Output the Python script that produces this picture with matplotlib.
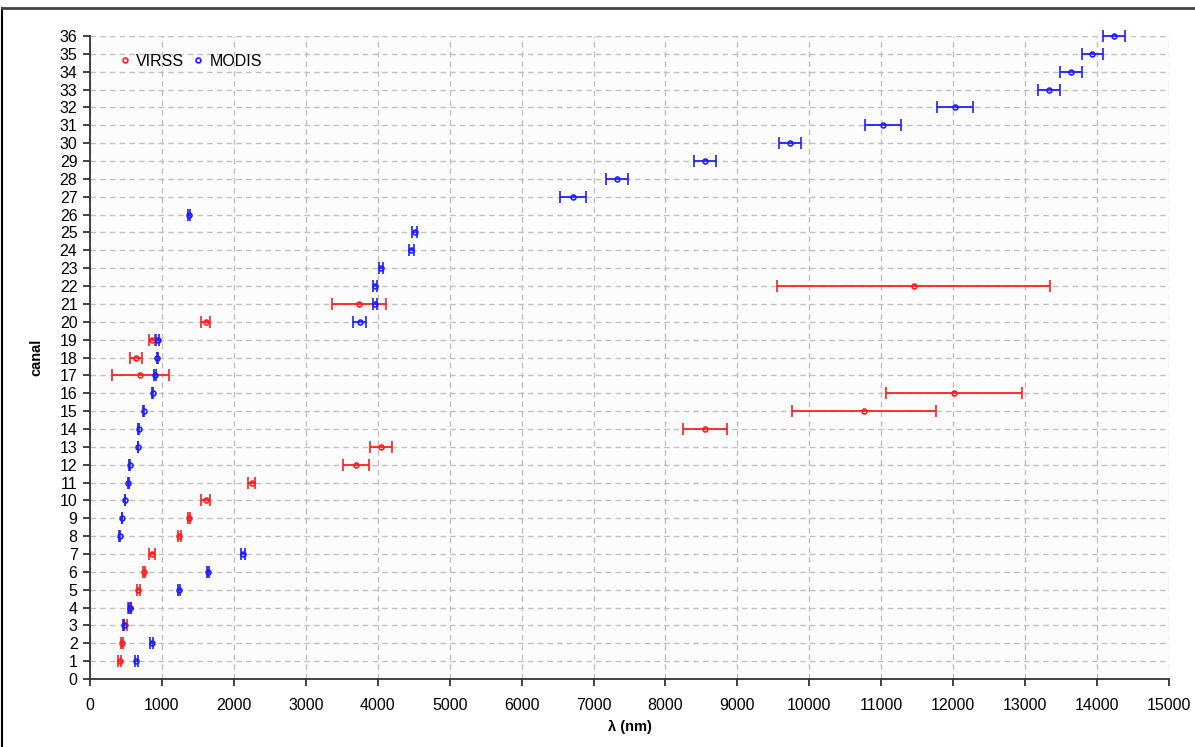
import numpy as np
import matplotlib
matplotlib.use('Agg')
import matplotlib.pyplot as plt
from matplotlib.lines import Line2D

plt.rcParams['font.family'] = ['Liberation Sans', 'DejaVu Sans']

# VIRSS channels: centre wavelength and error (nm)
virss_canal = list(range(1, 23))
virss_lambda = [412, 445, 488, 555, 672, 746, 865, 1240, 1378, 1610, 2250,
                3700, 4050, 8550, 10763, 12013, 700, 640, 865, 1610, 3740, 11450]
virss_err = [20, 18, 20, 20, 20, 15, 39, 20, 15, 60, 50,
             180, 155, 300, 1000, 950, 400, 80, 39, 60, 380, 1900]

# MODIS channels
modis_canal = list(range(1, 37))
modis_lambda = [645, 858, 469, 555, 1240, 1640, 2130, 412, 443, 488, 531, 551,
                667, 678, 748, 869, 905, 936, 940, 3750, 3959, 3959, 4050, 4465,
                4515, 1375, 6715, 7325, 8550, 9730, 11030, 12020, 13335, 13635,
                13935, 14235]
modis_err = [25, 17.5, 10, 10, 10, 12, 25, 7.5, 5, 5, 5, 5, 5, 5, 5, 7.5, 15,
             5, 25, 90, 30, 30, 30, 32.5, 33.5, 15, 180, 150, 150, 150, 250,
             250, 150, 150, 150, 150]

fig = plt.figure(figsize=(11.95, 7.47), dpi=100)
ax = fig.add_axes([90/1195, 1-679/747, (1169-90)/1195, (679-36)/747])
ax.set_facecolor('#fcfcfc')

for xs, ys, errs, col, z in [(virss_lambda, virss_canal, virss_err, '#ff2020', 3),
                             (modis_lambda, modis_canal, modis_err, '#2020ff', 4)]:
    eb = ax.errorbar(xs, ys, xerr=errs, fmt='o', color=col, ecolor=col,
                     mfc='none', mec=col, ms=3.5, mew=1.2, elinewidth=1.3,
                     capsize=4, capthick=1.3, zorder=z)
    for art in eb.lines[0:1] + tuple(eb.lines[1]) + tuple(eb.lines[2]):
        art.set_clip_on(False)

ax.set_xlim(0, 15000)
ax.set_ylim(0, 36)
ax.set_xticks(np.arange(0, 15001, 1000))
ax.set_yticks(np.arange(0, 37, 1))
ax.grid(True, color='#c0c0c0', linestyle=(0, (4, 3)), linewidth=1)
ax.set_axisbelow(True)
for s in ['top', 'right']:
    ax.spines[s].set_visible(False)
for s in ['left', 'bottom']:
    ax.spines[s].set_color('#333333')
    ax.spines[s].set_linewidth(1.3)
ax.tick_params(axis='both', labelsize=11.5, length=5, width=1.3, color='#333333')
ax.tick_params(axis='x', pad=9)
ax.tick_params(axis='y', pad=4)

ax.set_xlabel('λ (nm)', fontsize=10.5, fontweight='bold', labelpad=5)
ax.set_ylabel('canal', fontsize=10.5, fontweight='bold', labelpad=12)

handles = [Line2D([], [], marker='o', ls='none', mfc='none', mec='#ff2020', ms=3.5, mew=1.2),
           Line2D([], [], marker='o', ls='none', mfc='none', mec='#2020ff', ms=3.5, mew=1.2)]
ax.legend(handles, ['VIRSS', 'MODIS'], ncol=2, loc='upper left',
          bbox_to_anchor=(0.01, 0.995), frameon=False, fontsize=11.5,
          handletextpad=0.1, columnspacing=0.3, handlelength=1.2)

# frame around the figure
fig.add_artist(Line2D([2/1195, 2/1195], [0, 1-8/747], color='black', lw=1.5,
                      transform=fig.transFigure))
fig.add_artist(Line2D([2/1195, 1], [1-8/747, 1-8/747], color='#444444', lw=2,
                      transform=fig.transFigure))

fig.savefig('out.png', dpi=100)
